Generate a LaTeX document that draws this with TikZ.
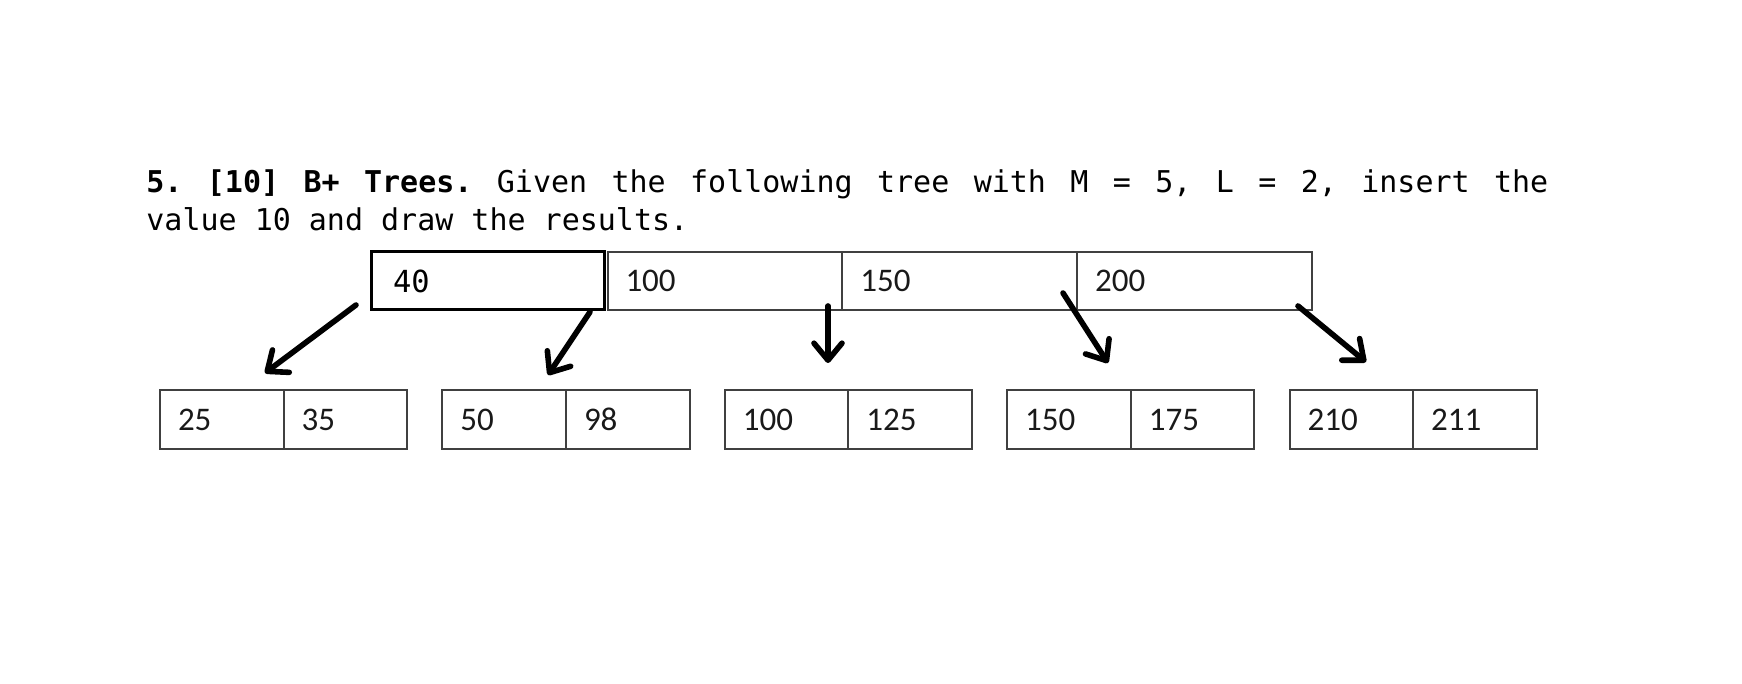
\documentclass[tikz,border=0pt]{standalone}
\usepackage{fontspec}
\setmonofont{DejaVu Sans Mono}
\newfontfamily\cellfont{Carlito}
\usepackage{tikz}
\usetikzlibrary{arrows.meta,positioning}
\definecolor{bpgray}{RGB}{64,64,64}
\definecolor{bptext}{RGB}{25,25,25}
\tikzstyle{keycell} = [draw=bpgray, line width=1pt, outer sep=0pt, inner xsep=9pt, inner ysep=0pt, minimum width=117.4pt, minimum height=29pt, text width=99.4pt, align=left, text=bptext, font=\cellfont\fontsize{16.5}{19}\selectfont]
\tikzstyle{firstkey} = [keycell, draw=black, line width=1.5pt, minimum width=116.5pt, inner xsep=11pt, text width=94.5pt, text=black, font=\ttfamily\fontsize{15.2}{18}\selectfont]
\tikzstyle{leafcell} = [keycell, minimum width=61.8pt, text width=43.8pt, minimum height=29.5pt]
\tikzstyle{ptr} = [line width=2.8pt, line cap=round, -{Straight Barb[length=8.5pt,width=14pt,round]}, color=black]
\tikzstyle{question} = [anchor=base west, inner sep=0pt, font=\ttfamily\fontsize{15}{18}\selectfont]

\begin{document}
\begin{tikzpicture}[x=0.5pt, y=-0.5pt]
\useasboundingbox (0,0) rectangle (1742,684);
% question text
\node[question] (qline1) at (146,193) {\makebox[701pt][l]{\textbf{5.}\hfill\textbf{[10]}\hfill\textbf{B+}\hfill\textbf{Trees.}\hfill Given\hfill the\hfill following\hfill tree\hfill with\hfill M\hfill =\hfill 5,\hfill L\hfill =\hfill 2,\hfill insert\hfill the}};
\node[question] (qline2) at (146,231) {value 10 and draw the results.};
% root node
\node[firstkey, anchor=north west] (k40) at (371,252) {40};
\node[keycell, right=1.75pt of k40] (k100) {100};
\node[keycell, right=0pt of k100] (k150) {150};
\node[keycell, right=0pt of k150] (k200) {200};
% leaves
\foreach \a/\b [count=\i] in {25/35,50/98,100/125,150/175,210/211} {
  \node[leafcell, anchor=north west] (la\i) at ({160+282.4*(\i-1)},390) {\a};
  \node[leafcell, right=0pt of la\i] (lb\i) {\b};
}
% pointers
\foreach \i/\sx/\sy/\ex/\ey in {1/356/305/265/373, 2/590/312/548/375, 3/828/306/828/363, 4/1063/293/1108/363, 5/1298/306/1366/362} {
  \coordinate (from\i) at (\sx,\sy);
  \coordinate (to\i) at (\ex,\ey);
  \draw[ptr] (from\i) -- (to\i);
}
\end{tikzpicture}
\end{document}
